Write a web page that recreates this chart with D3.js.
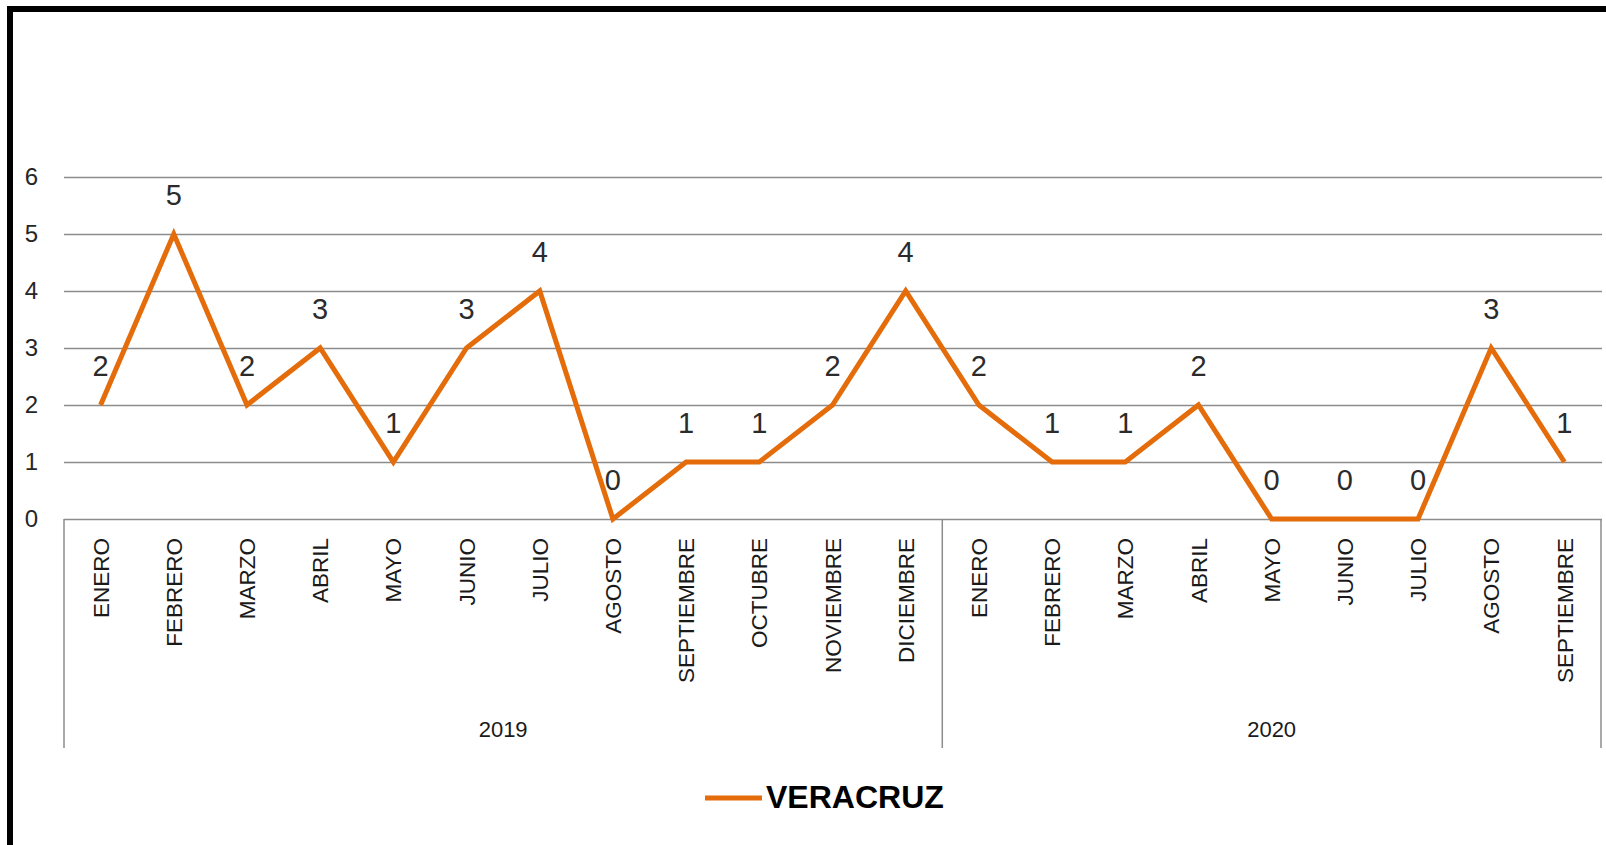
<!DOCTYPE html>
<html>
<head>
<meta charset="utf-8">
<title>VERACRUZ</title>
<script src="https://cdn.jsdelivr.net/npm/d3@7"></script>
<style>
  body { margin: 0; background: #fff; }
  text { font-family: "Liberation Sans", Arial, sans-serif; }
</style>
</head>
<body>
<script>
// datos
var meses2019 = ["ENERO", "FEBRERO", "MARZO", "ABRIL", "MAYO", "JUNIO", "JULIO",
                 "AGOSTO", "SEPTIEMBRE", "OCTUBRE", "NOVIEMBRE", "DICIEMBRE"];
var meses2020 = ["ENERO", "FEBRERO", "MARZO", "ABRIL", "MAYO", "JUNIO", "JULIO",
                 "AGOSTO", "SEPTIEMBRE"];
var valores2019 = [2, 5, 2, 3, 1, 3, 4, 0, 1, 1, 2, 4];
var valores2020 = [2, 1, 1, 2, 0, 0, 0, 3, 1];
var anios = ["2019", "2020"];
var ticksY = [0, 1, 2, 3, 4, 5, 6];
var serie = "VERACRUZ";

var svgWidth = 1606, svgHeight = 845;
var naranja = "#E46C0A", gris = "#8c8c8c";

// une los dos años en una sola lista
var datos = [];
meses2019.forEach(function(m, i) { datos.push({anio: anios[0], mes: m, valor: valores2019[i]}); });
meses2020.forEach(function(m, i) { datos.push({anio: anios[1], mes: m, valor: valores2020[i]}); });
datos.forEach(function(d, i) { d.i = i; });

var svg = d3.select("body").append("svg")
    .attr("width", svgWidth)
    .attr("height", svgHeight);

// marco negro
svg.append("rect")
    .attr("x", 10).attr("y", 9)
    .attr("width", 1700).attr("height", 1000)
    .attr("fill", "none").attr("stroke", "#000").attr("stroke-width", 6);

var plotLeft = 64, plotRight = 1601, plotTop = 177, plotBottom = 519, catBottom = 748;

var x = d3.scaleBand().domain(d3.range(datos.length)).range([plotLeft, plotRight]);
var y = d3.scaleLinear().domain([0, 6]).range([plotBottom, plotTop]);
var bw = x.bandwidth();

// eje y con lineas de cuadricula
var yAxis = svg.append("g")
    .attr("transform", "translate(" + plotLeft + ",0)")
    .call(d3.axisLeft(y).tickValues(ticksY).tickFormat(d3.format("d"))
      .tickSize(-(plotRight - plotLeft + 1)).tickPadding(26));
yAxis.select(".domain").remove();
yAxis.selectAll(".tick line").attr("stroke", gris).attr("stroke-width", 1.5);
yAxis.selectAll(".tick text")
    .attr("fill", "#262626")
    .style("font-size", "24px")
    .style("font-family", "'Liberation Sans', Arial, sans-serif");

// eje x: meses rotados
var xAxis = svg.append("g")
    .attr("transform", "translate(0," + plotBottom + ")")
    .call(d3.axisBottom(x).tickSize(0).tickFormat(function(i) { return datos[i].mes; }));
xAxis.select(".domain").remove();
xAxis.selectAll(".tick text")
    .attr("transform", "rotate(-90)")
    .attr("x", -19).attr("y", 0).attr("dy", "0.36em")
    .attr("text-anchor", "end")
    .attr("fill", "#1a1a1a")
    .style("font-size", "22.5px")
    .style("font-family", "'Liberation Sans', Arial, sans-serif");

// separadores de años
var limites = [x(0), x(meses2019.length), x(datos.length - 1) + bw];
svg.selectAll(".sep").data(limites).enter().append("line")
    .attr("class", "sep")
    .attr("x1", function(d) { return d; }).attr("x2", function(d) { return d; })
    .attr("y1", plotBottom).attr("y2", catBottom)
    .attr("stroke", gris).attr("stroke-width", 1.5);

// etiquetas de año
var grupos = [
  {anio: anios[0], a: 0, b: meses2019.length},
  {anio: anios[1], a: meses2019.length, b: datos.length}
];
svg.selectAll(".anio").data(grupos).enter().append("text")
    .attr("class", "anio")
    .attr("x", function(g) { return (x(g.a) + (g.b === datos.length ? plotRight : x(g.b))) / 2; })
    .attr("y", 737)
    .attr("text-anchor", "middle")
    .attr("fill", "#1a1a1a")
    .style("font-size", "22px")
    .text(function(g) { return g.anio; });

// linea de la serie
var linea = d3.line()
    .x(function(d) { return x(d.i) + bw / 2; })
    .y(function(d) { return y(d.valor); });

svg.append("path")
    .datum(datos)
    .attr("d", linea)
    .attr("fill", "none")
    .attr("stroke", naranja)
    .attr("stroke-width", 5)
    .attr("stroke-linejoin", "miter");

// etiquetas de valor
svg.selectAll(".valor").data(datos).enter().append("text")
    .attr("class", "valor")
    .attr("x", function(d) { return x(d.i) + bw / 2; })
    .attr("y", function(d) { return y(d.valor) - 29; })
    .attr("text-anchor", "middle")
    .attr("fill", "#2b2b2b")
    .style("font-size", "29px")
    .text(function(d) { return d.valor; });

// leyenda
svg.append("line")
    .attr("x1", 705).attr("x2", 762)
    .attr("y1", 798).attr("y2", 798)
    .attr("stroke", naranja).attr("stroke-width", 5);
svg.append("text")
    .attr("x", 766).attr("y", 808)
    .attr("fill", "#000")
    .style("font-size", "32px")
    .style("font-weight", "bold")
    .text(serie);
</script>
</body>
</html>
